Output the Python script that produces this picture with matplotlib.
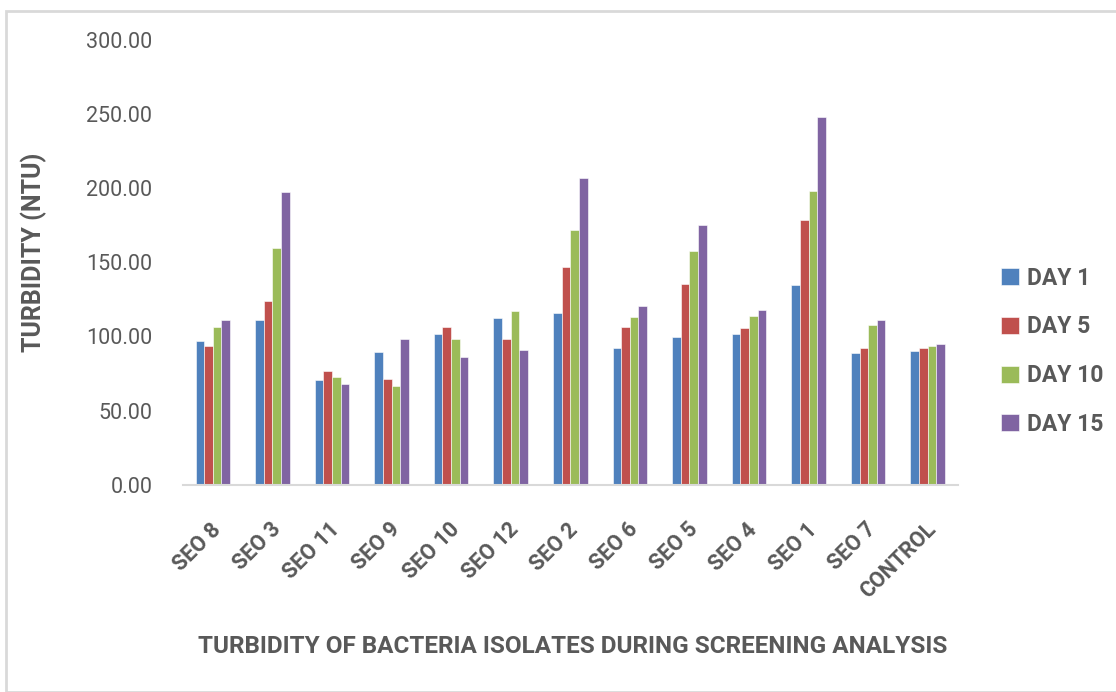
import numpy as np
import matplotlib
matplotlib.use("Agg")
import matplotlib.pyplot as plt
from matplotlib.patches import Rectangle

# isolates in the order they appear on the x axis
isolates = ["SEO 8", "SEO 3", "SEO 11", "SEO 9", "SEO 10", "SEO 12", "SEO 2",
            "SEO 6", "SEO 5", "SEO 4", "SEO 1", "SEO 7", "CONTROL"]

# turbidity readings (NTU)
day1 = [96.7, 110.8, 70.9, 89.5, 101.4, 112.4, 115.8, 92.0, 99.4, 101.9, 134.9, 88.6, 90.0]
day5 = [93.3, 123.9, 76.5, 71.3, 106.3, 98.0, 147.2, 106.3, 135.6, 105.5, 178.9, 92.4, 92.0]
day10 = [106.6, 159.4, 72.7, 66.4, 98.5, 116.9, 171.7, 112.9, 158.0, 113.5, 198.2, 107.5, 93.3]
day15 = [111.3, 197.8, 67.9, 98.5, 86.4, 90.6, 207.2, 120.3, 174.9, 118.1, 248.3, 111.3, 95.1]

series_names = ["DAY 1", "DAY 5", "DAY 10", "DAY 15"]
colors = ["#4F81BD", "#C0504D", "#9BBB59", "#8064A2"]
y_ticks = [0, 50, 100, 150, 200, 250, 300]

text_gray = "#595959"
plt.rcParams['font.family'] = ['Roboto', 'DejaVu Sans']

fig = plt.figure(figsize=(11.16, 6.92), dpi=100)
ax = fig.add_axes([0.164, 0.2995, 0.694, 0.6427])

# light gray frame round the chart area, like the office export
fig.patches.append(Rectangle((6 / 1116, 0), 1.2, 1 - 11 / 692, transform=fig.transFigure,
                             fill=False, edgecolor="#d9d9d9", linewidth=2))

x = np.arange(len(isolates))
w = 0.145
for i, (vals, name, c) in enumerate(zip([day1, day5, day10, day15], series_names, colors)):
    ax.bar(x + (i - 1.5) * w, vals, width=w, color=c, label=name,
           edgecolor="white", linewidth=0.4)

ax.set_xlim(-0.5, len(isolates) - 0.5)
ax.set_ylim(0, 300)
ax.set_yticks(y_ticks)
ax.set_yticklabels(["%.2f" % v for v in y_ticks], fontsize=15.5, color=text_gray)
ax.tick_params(axis='y', length=0, pad=22)
ax.tick_params(axis='x', length=0, pad=30)
ax.set_xticks(x + 0.08)
ax.set_xticklabels(isolates, rotation=45, ha='right', va='center', rotation_mode='anchor',
                   fontsize=15.5, fontweight='bold', color=text_gray)

for s in ["top", "right", "left"]:
    ax.spines[s].set_visible(False)
ax.spines["bottom"].set_color("#d9d9d9")
ax.spines["bottom"].set_linewidth(1.5)

ax.set_ylabel("TURBIDITY (NTU)", fontsize=18, fontweight='bold', color=text_gray)
ax.yaxis.set_label_coords(-0.176, 0.523)

fig.text(0.513, 0.066, "TURBIDITY OF BACTERIA ISOLATES DURING SCREENING ANALYSIS",
         ha='center', va='center', fontsize=17.5, fontweight='bold', color=text_gray)

leg = ax.legend(loc='center left', bbox_to_anchor=(1.03, 0.30), frameon=False,
                fontsize=16.5, handlelength=0.75, handleheight=0.75, handletextpad=0.35,
                labelspacing=1.12)
for t in leg.get_texts():
    t.set_color(text_gray)
    t.set_fontweight('bold')

fig.savefig("out.png", dpi=100)
